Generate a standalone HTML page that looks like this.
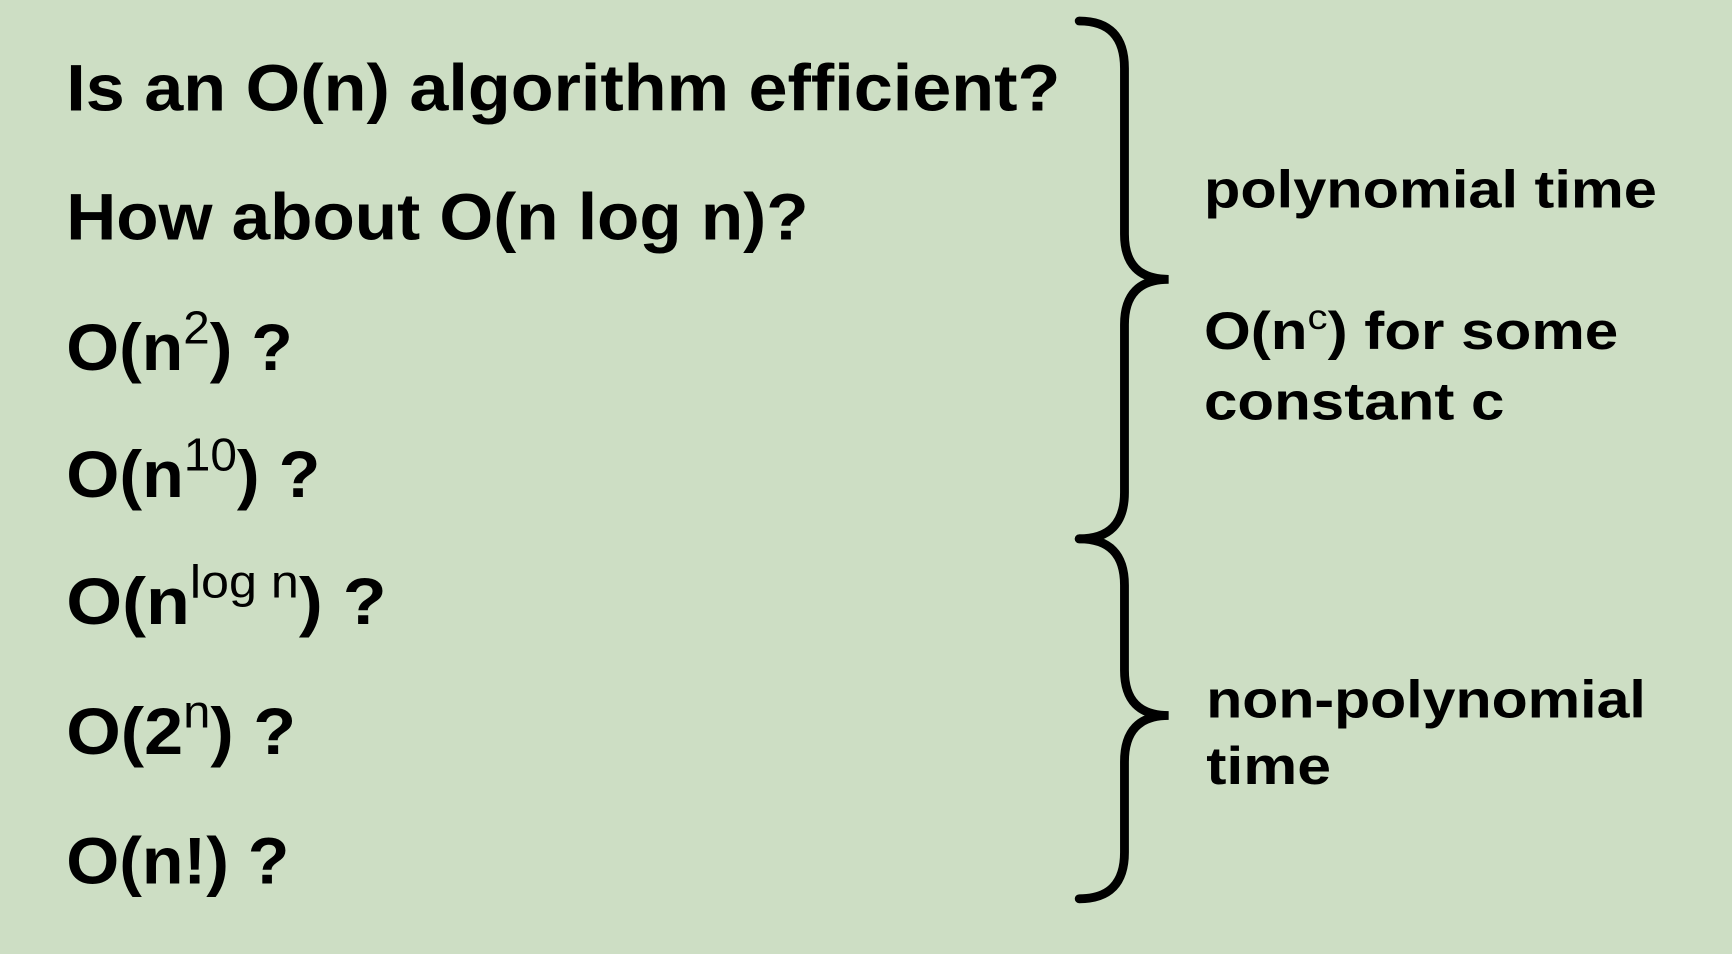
<!DOCTYPE html>
<html><head><style>html,body{margin:0;padding:0;background:#cddec4;width:1732px;height:954px;overflow:hidden}</style></head>
<body>
<svg width="1732" height="954" viewBox="0 0 1568 864" xmlns="http://www.w3.org/2000/svg" preserveAspectRatio="none">
<rect width="1568" height="864" fill="#cddec4"/>
<g font-family="Liberation Sans, sans-serif" font-weight="bold" fill="#000" font-size="60">
<text x="60" y="100" textLength="900" lengthAdjust="spacingAndGlyphs">Is an O(n) algorithm efficient?</text>
<text x="60" y="217" textLength="672" lengthAdjust="spacingAndGlyphs">How about O(n log n)?</text>
<text x="60" y="335" textLength="205" lengthAdjust="spacingAndGlyphs">O(n<tspan font-size="42" font-weight="normal" dy="-24">2</tspan><tspan dy="24">) ?</tspan></text>
<text x="60" y="450" textLength="230" lengthAdjust="spacingAndGlyphs">O(n<tspan font-size="42" font-weight="normal" dy="-24">10</tspan><tspan dy="24">) ?</tspan></text>
<text x="60" y="565" textLength="290" lengthAdjust="spacingAndGlyphs">O(n<tspan font-size="42" font-weight="normal" dy="-24">log n</tspan><tspan dy="24">) ?</tspan></text>
<text x="60" y="683" textLength="208" lengthAdjust="spacingAndGlyphs">O(2<tspan font-size="42" font-weight="normal" dy="-24">n</tspan><tspan dy="24">) ?</tspan></text>
<text x="60" y="800" textLength="202" lengthAdjust="spacingAndGlyphs">O(n!) ?</text>
</g>
<g font-family="Liberation Sans, sans-serif" font-weight="bold" fill="#000" font-size="48">
<text x="1090" y="188" textLength="410" lengthAdjust="spacingAndGlyphs">polynomial time</text>
<text x="1090" y="316" textLength="375" lengthAdjust="spacingAndGlyphs">O(n<tspan font-size="32" font-weight="normal" dy="-18">c</tspan><tspan dy="18">) for some</tspan></text>
<text x="1090" y="380" textLength="272" lengthAdjust="spacingAndGlyphs">constant c</text>
<text x="1092" y="650" textLength="398" lengthAdjust="spacingAndGlyphs">non-polynomial</text>
<text x="1092" y="710" textLength="113" lengthAdjust="spacingAndGlyphs">time</text>
</g>
<g fill="none" stroke="#000" stroke-width="8" stroke-linecap="round">
<path d="M977,19 Q1018,19 1018,62 L1018,212 Q1018,253 1058,253 Q1018,253 1018,294 L1018,446 Q1018,488 977,488"/>
<path d="M977,488 Q1018,488 1018,530 L1018,607 Q1018,648 1058,648 Q1018,648 1018,690 L1018,772 Q1018,814 977,814"/>
</g>
</svg>
</body></html>
